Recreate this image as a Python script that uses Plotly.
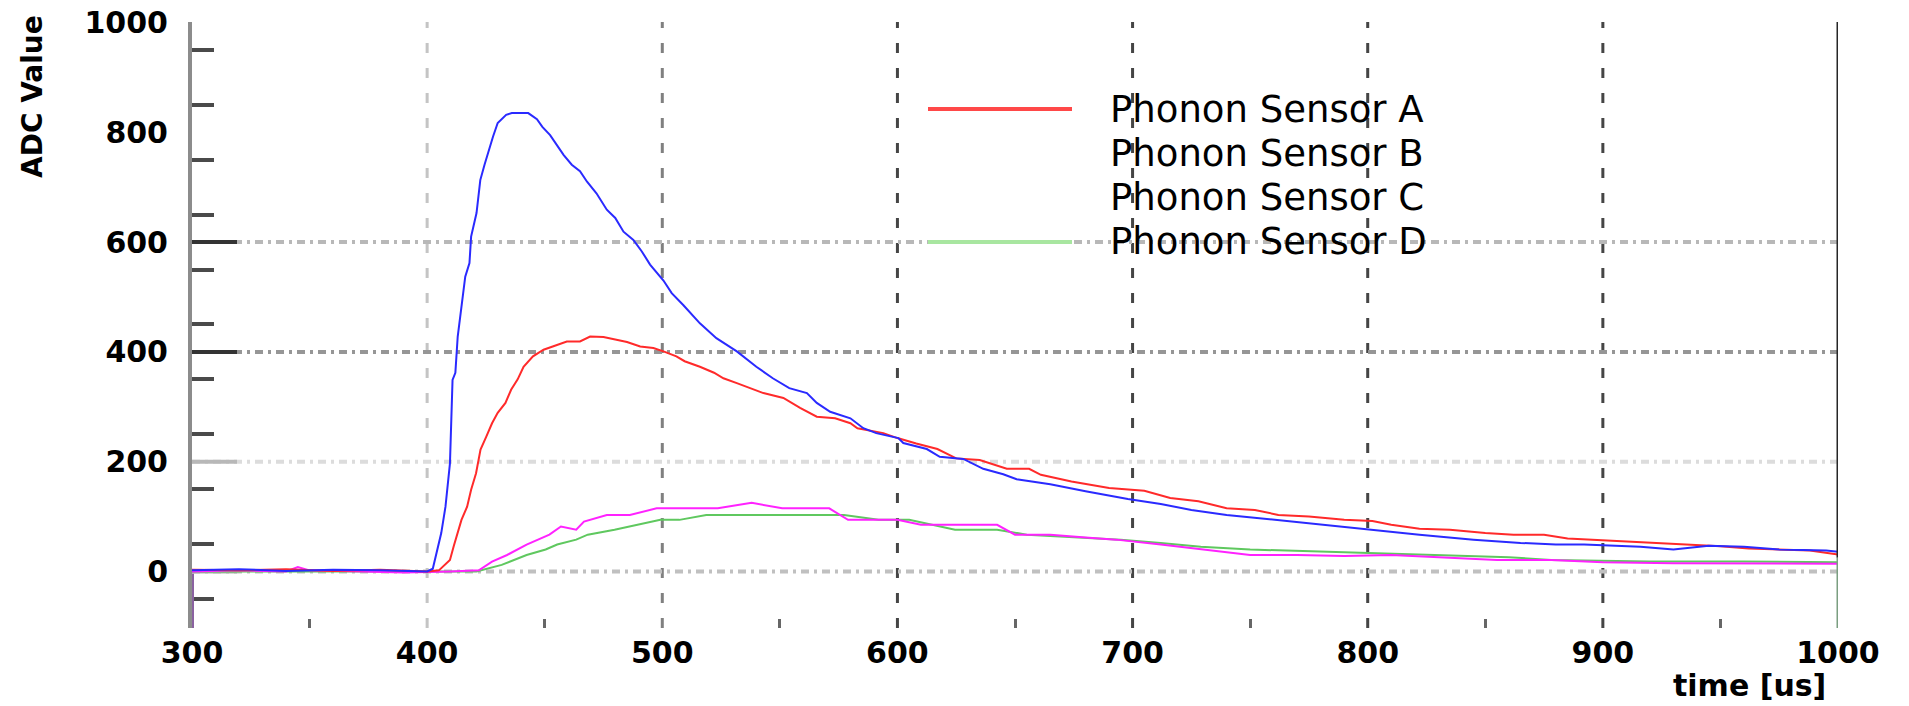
import plotly.graph_objects as go

# ---------------- data ----------------
time_a = [300, 320, 340, 360, 380, 400, 405, 409.7, 411.3, 413, 414.6, 417, 418.7, 420.8, 422.7,
          425.2, 427.6, 430, 433.3, 435.7, 438.5, 441, 443, 445, 449.5, 453.7, 459.4, 465, 469.3,
          475, 480.7, 485, 490.6, 496.2, 500.5, 506, 509.5, 516, 522, 526, 531.7, 537.4, 543,
          551.5, 558.6, 565.7, 573.5, 580, 583, 594, 600, 608, 617, 625, 635, 646.5, 656, 661,
          674, 690, 705, 716, 728, 740, 752, 762, 775, 790, 802, 810, 822, 835, 850, 862, 875,
          885, 895, 910, 925, 938, 950, 962, 975, 988, 1000]
adc_a = [3, 2, 4, 1, 3, 0, 2, 21, 46, 70, 94, 118, 149, 179, 222,
         246, 270, 289, 307, 331, 350, 373, 383, 392, 404, 410, 419, 419, 428,
         427, 422, 418, 410, 407, 401, 392, 383, 373, 362, 352, 343, 334, 325,
         316, 298, 282, 279, 270, 261, 252, 243, 233, 223, 206, 203, 187, 187, 176,
         164, 152, 147, 134, 128, 115, 112, 103, 100, 94, 92, 85, 78, 76, 70, 67, 67,
         60, 58, 55, 52, 49, 46, 42, 40, 38, 31]

time_b = [300, 320, 340, 360, 380, 400, 402.4, 404, 406, 407.8, 409.7, 410.8, 412, 413, 414,
          415, 416.2, 418, 418.7, 421, 422.6, 424.4, 426, 428, 430, 433.6, 436, 443, 446.7, 449,
          452.3, 455, 458, 461.5, 465, 468, 472, 476.4, 480, 483.5, 487.7, 491.3, 494.8, 500.5,
          504, 509, 516, 523, 531.7, 540, 547, 554, 561.5, 565.7, 571.4, 580, 585.5, 591, 600.4,
          602.5, 612.5, 618, 628, 636.5, 645, 650.7, 665, 680, 698, 712, 725, 740, 760, 785,
          802, 822, 845, 865, 880, 892, 916, 930, 945, 960, 975, 995, 1000]
adc_b = [2, 4, 1, 3, 2, 0, 5, 33, 70, 118, 197, 349, 362, 428, 460,
         495, 537, 562, 610, 653, 713, 741, 765, 792, 817, 832, 835, 835, 824, 810,
         795, 777, 759, 741, 729, 710, 689, 659, 644, 619, 604, 583, 559, 530,
         507, 485, 452, 425, 401, 373, 352, 334, 325, 307, 291, 279, 261, 252, 243,
         234, 223, 209, 205, 187, 177, 168, 159, 146, 132, 123, 112, 103, 94, 84,
         76, 67, 58, 52, 49, 49, 45, 40, 47, 45, 40, 38, 36]

time_c = [300, 320, 340, 345, 350, 370, 390, 410, 422, 427.6, 434, 442.3, 448.8, 452, 456.9,
          463.4, 466.7, 476.4, 486.2, 497.6, 505.7, 515.4, 523.6, 538, 551, 564, 571, 579, 592,
          600, 610, 624.5, 642.4, 650, 665, 680, 693, 712, 729, 750, 770, 790, 810, 835, 855,
          878, 900, 930, 960, 998, 1000]
adc_c = [0, 2, 0, 8, 2, 0, -2, 0, 2, 18, 30, 49, 61, 67, 82,
         76, 91, 103, 103, 115, 115, 115, 115, 125, 115, 115, 115, 94, 94,
         94, 85, 85, 85, 67, 67, 62, 58, 49, 40, 30, 30, 28, 30, 25, 21,
         21, 17, 15, 14, 14, 14]

time_d = [300, 350, 400, 421, 431.7, 437.4, 442.3, 450.4, 455.3, 463.4, 468.3, 479.7, 489.4,
          499.2, 507.3, 518.7, 531.7, 544.7, 557.7, 567.5, 577.3, 592, 605, 624.5, 642.4, 655,
          675, 695, 712, 729, 750, 790, 835, 860, 878, 920, 960, 1000]
adc_d = [0, 0, 0, 0, 12, 21, 30, 40, 49, 58, 67, 76, 85,
         94, 94, 103, 103, 103, 103, 103, 103, 94, 94, 76, 76, 67,
         62, 58, 52, 45, 40, 35, 30, 26, 21, 18, 18, 17]

series_names = ["Phonon Sensor A", "Phonon Sensor B", "Phonon Sensor C", "Phonon Sensor D"]
series_colors = ["#ff2a2a", "#2a2aff", "#ff22ff", "#5fc85f"]
legend_line_colors = ["#ff4848", None, None, "#a8e6a0"]

x_ticks = [300, 400, 500, 600, 700, 800, 900, 1000]
x_grid = [400, 500, 600, 700, 800, 900]
x_grid_colors = ["#c4c4c4", "#808080", "#454545", "#454545", "#454545", "#454545"]
y_grid = [0, 200, 400, 600]
y_grid_colors = ["#c0c0c0", "#dcdcdc", "#969696", "#b8b8b8"]
y_tick_colors = ["#b0b0b0", "#b8b8b8", "#333333", "#333333"]

X_RANGE = [300, 1000]
Y_RANGE = [-103, 1001]

# figure fills the window (page body margin removed below)
W, H = 1909, 706
# plot area at page x 192..1838, page y 22..628
L, T = 192, 22
R, B = W - 1838, H - 628
PW, PH = W - L - R, H - T - B


def px_x(p):  # page pixel -> paper x
    return (p - L) / PW


def px_y(p):  # page pixel -> paper y
    return (H - B - p) / PH


# ---------------- figure ----------------
fig = go.Figure()
all_series = [(time_a, adc_a), (time_b, adc_b), (time_c, adc_c), (time_d, adc_d)]
draw_order = [3, 2, 0, 1]
for i in draw_order:
    t, v = all_series[i]
    fig.add_trace(go.Scatter(x=t, y=v, mode="lines", name=series_names[i],
                             line=dict(color=series_colors[i], width=2),
                             showlegend=False))

shapes = []
for gx, gc in zip(x_grid, x_grid_colors):
    shapes.append(dict(type="line", xref="x", yref="paper", x0=gx, x1=gx, y0=0, y1=1,
                       line=dict(color=gc, width=3, dash="10px,15px"), layer="below"))
for gy, gc, tc in zip(y_grid, y_grid_colors, y_tick_colors):
    shapes.append(dict(type="line", xref="paper", yref="y", x0=0, x1=1, y0=gy, y1=gy,
                       line=dict(color=gc, width=4, dash="8px,5px,3px,5px"), layer="below"))
    shapes.append(dict(type="line", xref="paper", yref="y", x0=0, x1=45 / PW, y0=gy, y1=gy,
                       line=dict(color=tc, width=4), layer="below"))
shapes.append(dict(type="line", xref="x", yref="y", x0=X_RANGE[1], x1=X_RANGE[1],
                   y0=25, y1=Y_RANGE[1], line=dict(color="#262626", width=3)))
shapes.append(dict(type="line", xref="x", yref="y", x0=X_RANGE[1], x1=X_RANGE[1],
                   y0=Y_RANGE[0], y1=25, line=dict(color="#7a9e80", width=3)))
shapes.append(dict(type="line", xref="x", yref="y", x0=X_RANGE[0], x1=X_RANGE[0],
                   y0=Y_RANGE[0], y1=-4, line=dict(color="#8a62a0", width=4)))

# manual legend
leg_rows_px = [109, 153.5, 198, 242]
annotations = []
for name, lc, py in zip(series_names, legend_line_colors, leg_rows_px):
    if lc:
        shapes.append(dict(type="line", xref="paper", yref="paper", x0=px_x(928), x1=px_x(1072),
                           y0=px_y(py), y1=px_y(py), line=dict(color=lc, width=4)))
    annotations.append(dict(text=name, xref="paper", yref="paper", x=px_x(1108), y=px_y(py),
                            xanchor="left", yanchor="middle", showarrow=False,
                            font=dict(family="DejaVu Sans", size=37, color="black")))

annotations.append(dict(text="ADC Value", xref="paper", yref="paper", x=px_x(32),
                        y=px_y(97), textangle=-90, xanchor="center", yanchor="middle",
                        showarrow=False,
                        font=dict(family="DejaVu Sans", size=28, color="black", weight="bold")))
annotations.append(dict(text="time [us]", xref="paper", yref="paper", x=px_x(1828),
                        y=px_y(705), xanchor="right", yanchor="bottom", showarrow=False,
                        font=dict(family="DejaVu Sans", size=30, color="black", weight="bold")))

tick_font = dict(family="DejaVu Sans", size=30, color="black", weight="bold")

fig.update_layout(
    width=W, height=H,
    margin=dict(l=L, r=R, t=T, b=B, pad=0, autoexpand=False),
    paper_bgcolor="white", plot_bgcolor="white",
    shapes=shapes, annotations=annotations,
    showlegend=False, hovermode=False,
    xaxis=dict(range=X_RANGE, tickmode="array", tickvals=x_ticks,
               ticktext=[str(v) for v in x_ticks], ticks="", ticklen=0, showgrid=False,
               zeroline=False, showline=False, tickfont=tick_font, ticklabelstandoff=4,
               automargin=False, ticklabeloverflow="allow",
               minor=dict(tick0=350, dtick=100, ticks="inside", ticklen=9,
                          tickcolor="#666666", tickwidth=3, showgrid=False)),
    yaxis=dict(range=Y_RANGE, tickmode="linear", tick0=0, dtick=200, ticks="", ticklen=0,
               showgrid=False, zeroline=False, showline=True, linecolor="#8c8c8c",
               linewidth=4, tickfont=tick_font, ticklabelstandoff=14, automargin=False,
               ticklabeloverflow="allow",
               minor=dict(tick0=-50, dtick=100, ticks="inside", ticklen=22,
                          tickcolor="#4a4a4a", tickwidth=4, showgrid=False)),
)

fig.write_html("out.html", config={"displayModeBar": False},
               post_script="document.body.style.margin='0';document.body.style.padding='0';")
